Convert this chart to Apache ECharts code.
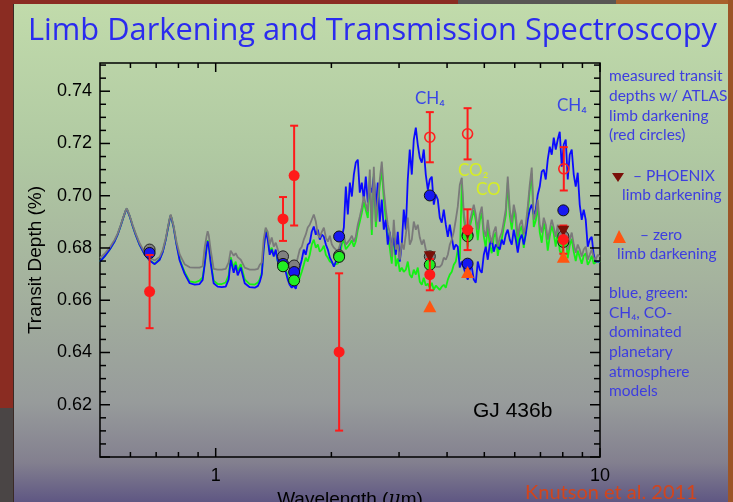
<!DOCTYPE html>
<html><head><meta charset="utf-8">
<script src="https://cdn.jsdelivr.net/npm/echarts@6/dist/echarts.min.js"></script>
<style>html,body{margin:0;padding:0;background:#fff;overflow:hidden}#c{width:733px;height:502px}</style>
</head><body><div id="c"></div>
<script>
// ---------- DATA ----------
const modelWave = [0.500,0.514,0.530,0.546,0.556,0.566,0.576,0.583,0.587,0.590,0.597,0.608,0.619,0.634,0.653,0.673,0.694,0.715,0.728,0.741,0.750,0.759,0.764,0.768,0.777,0.791,0.806,0.830,0.856,0.882,0.908,0.925,0.936,0.947,0.953,0.959,0.971,0.988,1.012,1.037,1.062,1.081,1.094,1.101,1.114,1.127,1.141,1.162,1.190,1.226,1.264,1.288,1.302,
1.318,1.333,1.349,1.366,1.382,1.399,1.416,1.433,1.451,1.468,1.486,1.503,1.521,1.540,1.558,1.577,1.596,1.616,1.635,1.655,1.675,1.695,1.715,1.736,1.757,1.778,1.800,1.822,1.844,1.866,1.889,1.912,1.935,1.958,1.982,2.006,2.030,2.054,2.079,2.103,2.129,2.155,2.181,2.207,2.234,2.261,2.288,2.315,2.343,2.371,2.400,2.429,2.458,2.488,2.518,2.548,2.579,2.610,2.641,2.673,2.705,2.738,2.771,2.804,2.838,2.872,2.907,2.942,2.977,3.013,3.049,3.086,3.124,3.161,3.199,3.238,3.277,3.317,3.356,3.397,3.438,3.479,3.521,3.564,3.607,3.650,3.694,3.739,3.784,3.829,3.875,3.922,3.970,4.018,4.066,4.115,4.164,4.214,4.265,4.317,4.369,4.421,4.475,4.529,4.583,4.638,4.694,4.751,4.808,4.866,4.925,4.984,5.044,5.105,5.166,5.228,5.291,5.355,5.420,5.485,5.551,5.618,5.686,5.754,5.824,5.894,5.965,6.037,6.110,6.183,6.258,6.333,6.409,6.487,6.565,6.644,6.724,6.805,6.887,6.970,7.054,7.139,7.225,7.312,7.400,7.489,7.580,7.671,7.764,7.857,7.952,8.047,8.144,8.243,8.341,8.442,8.544,8.647,8.751,8.856,8.963,9.071,9.180,9.291,9.403,9.516,9.631,9.747,9.864,10.0];

const grayModel = [0.6762,0.6778,0.6802,0.6832,0.6856,0.6888,0.6922,0.6944,0.6952,0.6948,0.6925,0.6888,0.6856,0.6818,0.6784,0.6762,0.6752,0.6766,0.6792,0.6835,0.6875,0.6914,0.6928,0.6922,0.6885,0.6822,0.6775,0.6738,0.6726,0.6725,0.6725,0.6730,0.6800,0.6845,0.6864,0.6850,0.6790,0.6720,0.6717,0.6717,0.6720,0.6745,0.6790,0.6792,0.6770,0.6780,0.6765,0.6755,0.6725,0.6717,0.6717,0.6720,0.6735,
0.6744,0.6832,0.6878,0.6862,0.6813,0.6840,0.6805,0.6820,0.6794,0.6774,
0.6786,0.6763,0.6748,0.6736,0.6725,0.6748,0.6717,0.6736,0.6763,0.6794,
0.6805,0.6832,0.6851,0.6878,0.6889,0.6908,0.6928,0.6901,0.6851,0.6840,
0.6862,0.6878,0.6840,0.6824,0.6847,0.6813,0.6801,0.6794,0.6786,0.6809,
0.6832,0.6847,0.6813,0.6820,0.6832,0.6847,0.6824,0.6843,0.6889,0.6920,
0.6954,0.6997,0.6966,0.6939,0.7100,0.6870,0.7111,0.6901,0.6985,0.7062,
0.7131,0.7023,0.6947,0.6889,0.6859,0.6767,0.6908,0.6794,0.6813,0.6755,
0.6820,0.6794,0.6851,0.6916,0.6813,0.6832,0.6901,0.6870,0.6889,0.6840,
0.6813,0.6832,0.6794,0.6782,0.6763,0.6748,0.6736,0.6728,0.6732,0.6728,
0.6736,0.6763,0.6755,0.6774,0.6813,0.6832,0.6862,0.6908,0.6958,0.7042,
0.7069,0.6935,0.6878,0.6851,0.6901,0.6908,0.6966,0.6928,0.6870,0.6928,
0.6958,0.6870,0.6843,0.6908,0.6851,0.6820,0.6862,0.6882,0.6805,0.6840,
0.6859,0.6901,0.6947,0.7073,0.6947,0.6897,0.6966,0.6928,0.6843,0.6889,
0.6908,0.6851,0.6889,0.6958,0.7042,0.7108,0.6908,0.6928,0.6985,0.6889,
0.6859,0.6916,0.6889,0.6832,0.6870,0.6908,0.6878,0.6843,0.6889,0.6832,
0.6805,0.6851,0.6870,0.6794,0.6832,0.6859,0.6813,0.6782,0.6813,0.6794,
0.6767,0.6794,0.6805,0.6755,0.6774,0.6794,0.6763,0.6755,0.6774,0.6767];

const blueModel = [0.6748,0.6768,0.6794,0.6826,0.6852,0.6885,0.6920,0.6942,0.6950,0.6946,0.6922,0.6884,0.6851,0.6812,0.6776,0.6752,0.6738,0.6755,0.6784,0.6830,0.6870,0.6910,0.6925,0.6918,0.6880,0.6812,0.6752,0.6702,0.6665,0.6660,0.6662,0.6678,0.6735,0.6800,0.6826,0.6810,0.6740,0.6665,0.6652,0.6650,0.6652,0.6680,0.6755,0.6762,0.6705,0.6735,0.6695,0.6725,0.6665,0.6650,0.6648,0.6655,0.6670,
0.6698,0.6794,0.6862,0.6832,0.6774,0.6794,0.6767,0.6794,0.6748,0.6763,
0.6732,0.6744,0.6709,0.6679,0.6659,0.6648,0.6656,0.6644,0.6679,0.6725,
0.6755,0.6794,0.6774,0.6813,0.6820,0.6862,0.6882,0.6851,0.6870,0.6832,
0.6851,0.6843,0.6813,0.6794,0.6763,0.6748,0.6728,0.6748,0.6763,0.6794,
0.6840,0.6878,0.7035,0.6928,0.7050,0.6997,0.7081,0.7127,0.7138,0.7012,
0.7050,0.6985,0.7073,0.6974,0.7035,0.7012,0.7073,0.6947,0.7050,0.6901,
0.6985,0.6870,0.6908,0.6813,0.6862,0.6794,0.6840,0.6774,0.6862,0.6748,
0.6813,0.6947,0.6870,0.7062,0.7177,0.7081,0.7215,0.7261,0.7196,0.7146,
0.7127,0.7177,0.7081,0.7023,0.7062,0.7073,0.6966,0.7004,0.6985,0.6916,
0.6897,0.6947,0.6889,0.6843,0.6889,0.6882,0.6794,0.6813,0.6805,0.6725,
0.6748,0.6744,0.6698,0.6679,0.6717,0.6728,0.6679,0.6667,0.6748,0.6717,
0.6705,0.6774,0.6805,0.6755,0.6813,0.6832,0.6786,0.6813,0.6805,0.6794,
0.6832,0.6813,0.6851,0.6870,0.6832,0.6813,0.6870,0.6832,0.6782,0.6832,
0.6851,0.6813,0.6851,0.6908,0.6947,0.6966,0.6928,0.6947,0.7004,0.7035,
0.7092,0.7100,0.7062,0.7138,0.7188,0.7157,0.7222,0.7177,0.7215,0.7245,
0.7111,0.7196,0.7215,0.7062,0.7157,0.7177,0.7081,0.7035,0.7088,0.6966,
0.6908,0.6947,0.6908,0.6805,0.6832,0.6843,0.6774,0.6748,0.6748,0.6748];

const greenModel = [0.6748,0.6768,0.6794,0.6826,0.6852,0.6885,0.6920,0.6942,0.6950,0.6946,0.6922,0.6884,0.6851,0.6812,0.6776,0.6753,0.6740,0.6757,0.6785,0.6830,0.6870,0.6910,0.6925,0.6918,0.6880,0.6814,0.6756,0.6708,0.6672,0.6668,0.6675,0.6688,0.6740,0.6805,0.6830,0.6815,0.6748,0.6675,0.6662,0.6662,0.6668,0.6695,0.6765,0.6770,0.6725,0.6748,0.6712,0.6738,0.6680,0.6662,0.6660,0.6668,0.6680,
0.6705,0.6801,0.6870,0.6840,0.6786,0.6801,0.6774,0.6786,0.6748,0.6755,
0.6732,0.6725,0.6717,0.6694,0.6671,0.6686,0.6663,0.6679,0.6663,0.6686,
0.6709,0.6736,0.6763,0.6748,0.6774,0.6813,0.6832,0.6801,0.6813,0.6786,
0.6794,0.6809,0.6774,0.6763,0.6748,0.6744,0.6736,0.6732,0.6740,0.6763,
0.6815,0.6830,0.6795,0.6800,0.6815,0.6830,0.6805,0.6825,0.6870,0.6900,
0.6935,0.6975,0.6945,0.6915,0.7075,0.6850,0.7085,0.6880,0.6960,0.7040,
0.7100,0.6990,0.6910,0.6850,0.6800,0.6740,0.6860,0.6730,0.6760,0.6710,
0.6725,0.6709,0.6717,0.6748,0.6698,0.6686,0.6717,0.6698,0.6725,0.6671,
0.6659,0.6686,0.6656,0.6663,0.6648,0.6667,0.6640,0.6656,0.6663,0.6640,
0.6652,0.6659,0.6648,0.6679,0.6698,0.6709,0.6736,0.6748,0.6794,0.6755,
0.7045,0.6915,0.6855,0.6805,0.6880,0.6885,0.6945,0.6905,0.6830,0.6905,
0.6935,0.6845,0.6800,0.6885,0.6810,0.6780,0.6840,0.6860,0.6770,0.6815,
0.6835,0.6880,0.6925,0.7050,0.6925,0.6870,0.6945,0.6905,0.6795,0.6865,
0.6885,0.6800,0.6865,0.6935,0.7020,0.7085,0.6880,0.6905,0.6960,0.6860,
0.6820,0.6895,0.6865,0.6790,0.6845,0.6885,0.6855,0.6805,0.6865,0.6790,
0.6770,0.6830,0.6845,0.6760,0.6810,0.6835,0.6785,0.6750,0.6790,0.6765,
0.6740,0.6770,0.6780,0.6735,0.6750,0.6770,0.6740,0.6735,0.6750,0.6745];

// measured transit depths (ATLAS limb darkening), filled red circles
const atlasWave  = [0.673, 1.497, 1.600, 2.095, 3.607, 4.523, 8.028];
const atlasDepth = [0.6633, 0.6911, 0.7077, 0.6402, 0.6698, 0.6870, 0.6832];
const atlasErr   = [0.0140, 0.0084, 0.0191, 0.0301, 0.0060, 0.0078, 0.0054];
// open red circles
const openWave  = [3.607, 4.523, 8.050];
const openDepth = [0.7224, 0.7237, 0.7103];
const openErr   = [0.0096, 0.0098, 0.0083];
// band-averaged model points
const binWave   = [0.673, 1.497, 1.600, 2.095, 3.607, 4.523, 8.028];
const grayBin   = [0.6794, 0.6768, 0.6733, 0.6772, 0.6768, 0.6850, 0.6845];
const blueBin   = [0.6781, 0.6739, 0.6708, 0.6844, 0.7001, 0.6740, 0.6944];
const greenWave = [1.497, 1.600, 2.095, 3.607, 4.523, 8.028];
const greenBin  = [0.6730, 0.6676, 0.6766, 0.6736, 0.6845, 0.6823];
// PHOENIX and zero limb darkening
const ldWave     = [3.607, 4.523, 8.028];
const phoenixBin = [0.6766, 0.6855, 0.6864];
const zeroBin    = [0.6577, 0.6708, 0.6766];
// axes
const xTickVals = [0.6,0.7,0.8,0.9,1,2,3,4,5,6,7,8,9,10];
const xLabelVals = [1, 10];
const yMajor = [0.60,0.62,0.64,0.66,0.68,0.70,0.72,0.74];
const yLabelVals = [0.62,0.64,0.66,0.68,0.70,0.72,0.74];
const X_MIN = 0.5, X_MAX = 10, Y_MIN = 0.6, Y_MAX = 0.7508;

// ---------- CHART ----------
const chart = echarts.init(document.getElementById('c'), null, {renderer:'canvas', width:733, height:502});
const zip = (a,b) => a.map((v,i)=>[v,b[i]]);
const yTickVals = [];
for (let k = 120; k <= 150; k++) yTickVals.push(+(k*0.005).toFixed(3));

function fit(text, family, target, base){
  const c = document.createElement('canvas').getContext('2d');
  c.font = base + 'px ' + family;
  return base * target / c.measureText(text).width;
}
const titleText = 'Limb Darkening and Transmission Spectroscopy';
const titleFam = "'Open Sans', sans-serif";
const titleSize = fit(titleText, titleFam, 689, 34);

const noteColor = '#3d3de0';
const noteFont = "Lato, 'DejaVu Sans', sans-serif";
function note(text, x, y){
  return {type:'text', left:x, top:y-10, z:50, style:{text, fill:noteColor, font:'15.5px '+noteFont}};
}

const bgGrad = new echarts.graphic.LinearGradient(0,0,0,1,[
  {offset:0, color:'#c1dbab'},{offset:0.3, color:'#b0c9a2'},{offset:0.55, color:'#a5b39e'},
  {offset:0.8, color:'#979b9b'},{offset:0.92, color:'#83808f'},{offset:1, color:'#5f5783'}]);

function errBars(waves, depths, errs){
  return {
    type:'custom', z:6, clip:false,
    data: waves.map((w,i)=>[w, depths[i]-errs[i], depths[i]+errs[i]]),
    encode:{x:0, y:[1,2]},
    renderItem:(p, api)=>{
      const lo = api.coord([api.value(0), api.value(1)]);
      const hi = api.coord([api.value(0), api.value(2)]);
      const st = {stroke:'#ff1a1a', lineWidth:2};
      return {type:'group', children:[
        {type:'line', shape:{x1:lo[0],y1:lo[1],x2:hi[0],y2:hi[1]}, style:st},
        {type:'line', shape:{x1:lo[0]-4,y1:lo[1],x2:lo[0]+4,y2:lo[1]}, style:st},
        {type:'line', shape:{x1:hi[0]-4,y1:hi[1],x2:hi[0]+4,y2:hi[1]}, style:st}
      ]};
    }
  };
}

const option = {
  animation:false,
  backgroundColor:'#8a2c22',
  grid:{left:100, top:63, right:133, bottom:45, containLabel:false, outerBoundsMode:'none',
    show:true, borderColor:'#000', borderWidth:1.5, backgroundColor:'transparent'},
  xAxis:{type:'log', logBase:10, min:X_MIN, max:X_MAX,
    axisLine:{show:false}, axisTick:{show:false}, splitLine:{show:false}, minorTick:{show:false},
    axisLabel:{margin:10, color:'#000', fontSize:18, fontFamily:"'Liberation Sans', Arial, sans-serif",
      showMinLabel:true, showMaxLabel:true,
      formatter:v => xLabelVals.some(t=>Math.abs(t-v)<1e-6*t) ? String(Math.round(v)) : ''},
    name:'{n|Wavelength (}{m|μ}{n|m)}', nameLocation:'middle', nameGap:31,
    nameTextStyle:{rich:{n:{fontSize:19, color:'#000', fontFamily:"'Liberation Sans', Arial, sans-serif"},
      m:{fontSize:19, color:'#000', fontStyle:'italic', fontFamily:"'DejaVu Serif', serif"}}}
  },
  yAxis:{type:'value', min:Y_MIN, max:Y_MAX, interval:0.02,
    axisLine:{show:false}, axisTick:{show:false}, splitLine:{show:false},
    axisLabel:{margin:8, color:'#000', fontSize:18, fontFamily:"'Liberation Sans', Arial, sans-serif",
      showMinLabel:false, showMaxLabel:false,
      formatter:v => yLabelVals.some(t=>Math.abs(t-v)<1e-6) ? v.toFixed(2) : ''},
    name:'Transit Depth (%)', nameLocation:'middle', nameGap:55,
    nameTextStyle:{fontSize:19, color:'#000', fontFamily:"'Liberation Sans', Arial, sans-serif"}
  },
  graphic:[
    {type:'rect', z:-20, shape:{x:0,y:408,width:13,height:94}, style:{fill:'#4a4545'}},
    {type:'rect', z:-20, shape:{x:458,y:0,width:158,height:4}, style:{fill:'#585654'}},
    {type:'rect', z:-20, shape:{x:616,y:0,width:117,height:4}, style:{fill:'#a8602c'}},
    {type:'rect', z:-20, shape:{x:728,y:0,width:5,height:502}, style:{fill:'#9c5527'}},
    {type:'rect', z:-15, shape:{x:13,y:4,width:715,height:498}, style:{fill:bgGrad}},
    {type:'line', z:-14, shape:{x1:13.5,y1:4,x2:13.5,y2:502}, style:{stroke:'#3a2a26', lineWidth:1}},
    {type:'text', left:28, top:36 - titleSize*0.66, z:50, style:{text:titleText, fill:'#2b2bef', font:titleSize.toFixed(1)+'px '+titleFam}},
    {type:'text', left:415, top:90, z:50, style:{text:'CH₄', fill:'#3a46e6', font:"17px Lato, 'DejaVu Sans', sans-serif"}},
    {type:'text', left:557, top:97, z:50, style:{text:'CH₄', fill:'#3a46e6', font:"17px Lato, 'DejaVu Sans', sans-serif"}},
    {type:'text', left:458, top:162, z:50, style:{text:'CO₂', fill:'#d6ee22', font:"17px Lato, 'DejaVu Sans', sans-serif"}},
    {type:'text', left:476, top:181, z:50, style:{text:'CO', fill:'#d6ee22', font:"17px Lato, 'DejaVu Sans', sans-serif"}},
    {type:'text', left:473, top:401, z:50, style:{text:'GJ 436b', fill:'#000', font:"21px 'Liberation Sans', Arial, sans-serif"}},
    {type:'text', left:525, top:483, z:50, style:{text:'Knutson et al. 2011', fill:'#d2451c', font:"20px Lato, sans-serif"}},
    note('measured transit', 609, 78),
    note('depths w/ ATLAS', 609, 98),
    note('limb darkening', 609, 118),
    note('(red circles)', 609, 137),
    {type:'polygon', z:50, shape:{points:[[612,173],[624,173],[618,182]]}, style:{fill:'#7a1008'}},
    note('– PHOENIX', 633, 178),
    note('limb darkening', 622, 197),
    {type:'polygon', z:50, shape:{points:[[619,230],[613,243],[626,243]]}, style:{fill:'#ff5511'}},
    note('– zero', 640, 237),
    note('limb darkening', 617, 256),
    note('blue, green:', 609, 295),
    note('CH₄, CO-', 609, 315),
    note('dominated', 609, 334),
    note('planetary', 609, 354),
    note('atmosphere', 609, 374),
    note('models', 609, 393)
  ],
  series:[
    {type:'line', name:'CO model', data:zip(modelWave, greenModel), showSymbol:false, z:2, lineStyle:{color:'#14f014', width:1.8}},
    {type:'line', name:'CH4 model', data:zip(modelWave, blueModel), showSymbol:false, z:3, lineStyle:{color:'#0a0aff', width:1.8}},
    {type:'line', name:'other model', data:zip(modelWave, grayModel), showSymbol:false, z:4, lineStyle:{color:'#7a7a7a', width:1.8}},
    {type:'scatter', z:5, data:zip(binWave, grayBin), symbolSize:11, itemStyle:{color:'#808080', borderColor:'#222', borderWidth:1, opacity:1}},
    {type:'scatter', z:5, data:zip(binWave, blueBin), symbolSize:11, itemStyle:{color:'#1818f0', borderColor:'#111', borderWidth:1, opacity:1}},
    {type:'scatter', z:5, data:zip(greenWave, greenBin), symbolSize:11, itemStyle:{color:'#22ee22', borderColor:'#111', borderWidth:1, opacity:1}},
    {type:'scatter', z:6, data:zip(ldWave, phoenixBin), symbol:'triangle', symbolRotate:180, symbolSize:[12,11], itemStyle:{color:'#7a1008', opacity:1}},
    {type:'scatter', z:6, data:zip(ldWave, zeroBin), symbol:'triangle', symbolSize:[13,12], itemStyle:{color:'#ff5511', opacity:1}},
    errBars(atlasWave, atlasDepth, atlasErr),
    errBars(openWave, openDepth, openErr),
    {type:'scatter', z:7, data:zip(atlasWave, atlasDepth), symbolSize:11, itemStyle:{color:'#ff1a1a', opacity:1}},
    {type:'scatter', z:7, data:zip(openWave, openDepth), symbolSize:10, itemStyle:{color:'rgba(0,0,0,0)', borderColor:'#ff2020', borderWidth:1.6, opacity:1}},
    {type:'custom', z:10, clip:false, silent:true,
      data: xTickVals.map(v=>[v, Y_MIN]), encode:{x:0, y:1},
      renderItem:(p, api)=>{
        const v = api.value(0);
        const lg = Math.log10(v);
        const major = Math.abs(lg - Math.round(lg)) < 1e-6;
        const len = major ? 9 : 5;
        const b = api.coord([v, Y_MIN]), t = api.coord([v, Y_MAX]);
        const st = {stroke:'#000', lineWidth:1.5};
        return {type:'group', children:[
          {type:'line', shape:{x1:b[0],y1:b[1],x2:b[0],y2:b[1]-len}, style:st},
          {type:'line', shape:{x1:t[0],y1:t[1],x2:t[0],y2:t[1]+len}, style:st}]};
      }},
    {type:'custom', z:10, clip:false, silent:true,
      data: yTickVals.map(v=>[X_MIN, v]), encode:{x:0, y:1},
      renderItem:(p, api)=>{
        const v = api.value(1);
        const major = yMajor.some(t=>Math.abs(t-v)<1e-6);
        const len = major ? 10 : 6;
        const l = api.coord([X_MIN, v]), r = api.coord([X_MAX, v]);
        const st = {stroke:'#000', lineWidth:1.5};
        return {type:'group', children:[
          {type:'line', shape:{x1:l[0],y1:l[1],x2:l[0]+len,y2:l[1]}, style:st},
          {type:'line', shape:{x1:r[0],y1:r[1],x2:r[0]-len,y2:r[1]}, style:st}]};
      }}
  ]
};
chart.setOption(option);
</script>
</body></html>
